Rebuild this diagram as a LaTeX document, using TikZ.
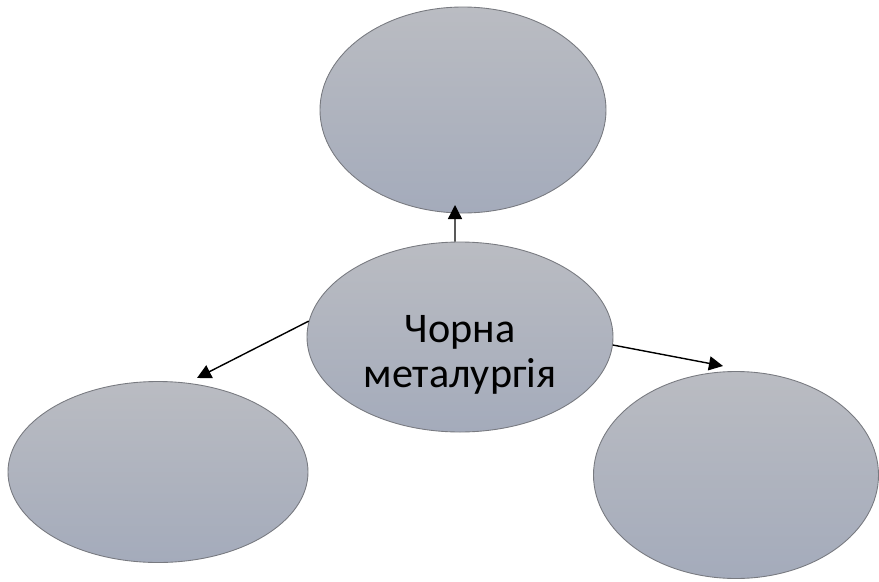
\documentclass[tikz,border=0pt]{standalone}
\usepackage{fontspec}
\setmainfont{Carlito}
\usetikzlibrary{shapes.geometric,arrows.meta}
\definecolor{ovtop}{RGB}{186,188,194}
\definecolor{ovbot}{RGB}{164,171,187}
\definecolor{ovline}{RGB}{120,122,128}
\tikzset{
  oval/.style={ellipse, draw=ovline, line width=0.5pt, inner sep=0pt,
    top color=ovtop, bottom color=ovbot, align=center},
  link/.style={-{Triangle[length=8pt,width=8pt]}, line width=0.8pt}
}
\begin{document}
    \begin{tikzpicture}
        \useasboundingbox (0,0) rectangle (17.58,11.62);
        % овали
        \node[oval, minimum width=5.72cm, minimum height=4.12cm] (top) at (9.26,9.42) {};
        \node[oval, minimum width=6.12cm, minimum height=3.80cm,
              font=\fontsize{24}{26}\selectfont] (cen) at (9.20,4.88)
              {\raisebox{-0.38cm}[\height][\depth]{\begin{tabular}{@{}c@{}}Чорна\\металургія\end{tabular}}};
        \node[oval, minimum width=6.00cm, minimum height=3.62cm] (left) at (3.16,2.18) {};
        \node[oval, minimum width=5.70cm, minimum height=4.14cm] (right) at (14.72,2.12) {};

        % кінці стрілок
        \coordinate (tipT) at (9.10,7.52);
        \coordinate (tipL) at (3.94,4.06);
        \coordinate (tipR) at (14.46,4.30);

        % стрілки
        \draw[link] (cen.93) -- (tipT);
        \draw[link] (cen.174) -- (tipL);
        \draw[link] (cen.-3) -- (tipR);
    \end{tikzpicture}
\end{document}
